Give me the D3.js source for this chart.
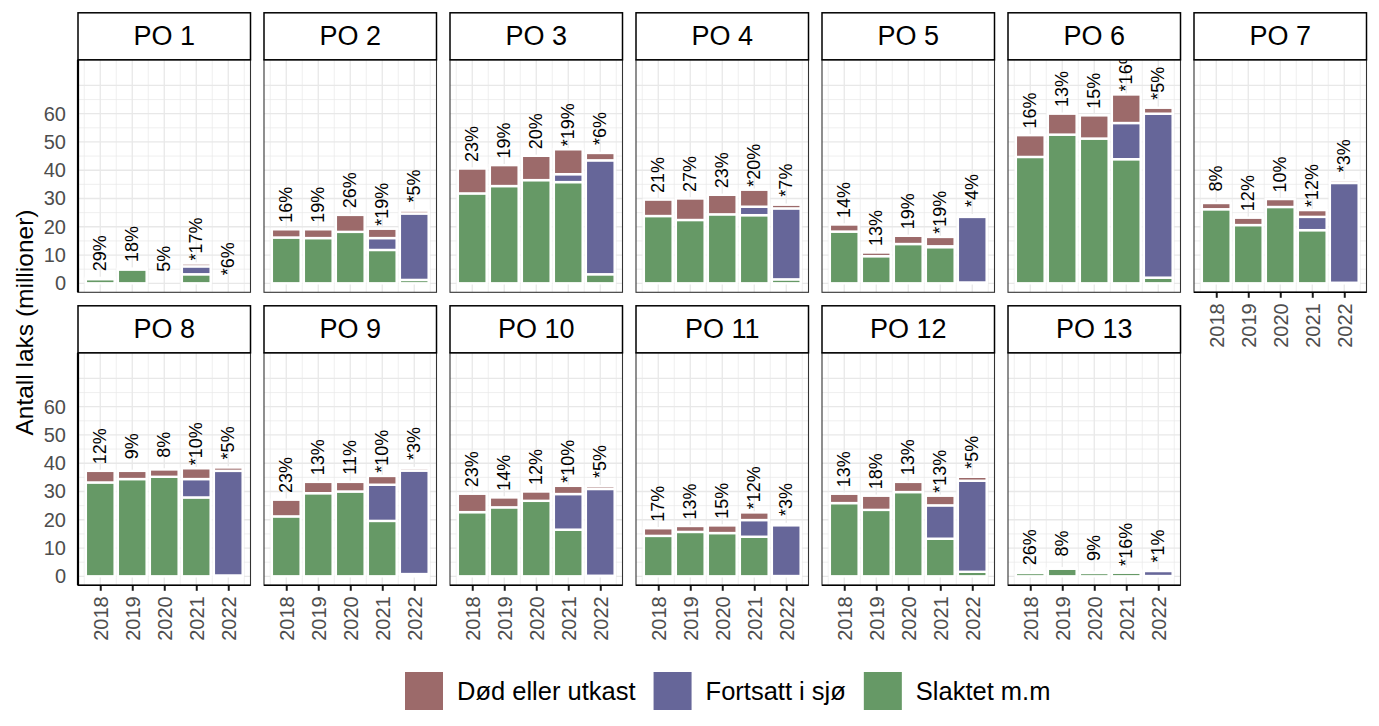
<!DOCTYPE html>
<html>
<head>
<meta charset="utf-8">
<script src="https://cdn.jsdelivr.net/npm/d3@7"></script>
<style>
  body { margin: 0; background: #fff; }
  text { font-family: "Liberation Sans", Arial, sans-serif; }
</style>
</head>
<body>
<div id="chart"></div>
<script>
// Regions, years and series (millions of salmon)
const regions = ["PO 1", "PO 2", "PO 3", "PO 4", "PO 5", "PO 6", "PO 7",
                 "PO 8", "PO 9", "PO 10", "PO 11", "PO 12", "PO 13"];
const years = [2018, 2019, 2020, 2021, 2022];

const slaktet = [
    [1.5, 4.9, 0, 3.2, 0],
    [16.2, 16.0, 18.2, 11.8, 1.2],
    [31.8, 34.4, 36.5, 35.8, 3.2],
    [23.8, 22.4, 24.4, 24.1, 1.4],
    [18.3, 9.6, 13.9, 12.8, 0.3],
    [44.7, 52.6, 51.2, 43.9, 2.0],
    [26.2, 20.6, 27.0, 18.8, 0.2],
    [33.2, 34.4, 35.2, 27.9, 0.3],
    [21.2, 29.4, 30.0, 19.6, 0.8],
    [22.7, 24.4, 26.7, 16.5, 0.2],
    [14.3, 15.7, 15.3, 14.0, 0.1],
    [25.9, 23.5, 29.8, 13.3, 1.6],
    [1.2, 2.7, 1.2, 1.3, 0.1]
];
const fortsatt = [
    [0, 0, 0, 2.8, 0],
    [0, 0, 0, 4.2, 23.5],
    [0, 0, 0, 2.8, 40.3],
    [0, 0, 0, 3.0, 25.1],
    [0, 0, 0, 0.3, 23.2],
    [0, 0, 0, 12.8, 58.0],
    [0, 0, 0, 4.7, 35.3],
    [0, 0, 0, 6.5, 37.0],
    [0, 0, 0, 12.8, 36.6],
    [0, 0, 0, 12.6, 30.7],
    [0, 0, 0, 5.9, 18.0],
    [0, 0, 0, 11.8, 32.2],
    [0, 0, 0, 0.8, 1.8]
];
const dod = [
    [0.4, 0.3, 0, 1.0, 0],
    [2.9, 3.1, 6.0, 3.3, 1.0],
    [8.8, 7.4, 8.6, 8.8, 2.6],
    [5.8, 7.6, 6.9, 6.0, 1.3],
    [2.5, 1.3, 2.9, 3.3, 0.6],
    [7.7, 7.4, 8.2, 10.1, 2.1],
    [2.2, 2.6, 2.8, 2.4, 0.9],
    [4.1, 2.9, 2.6, 3.8, 1.2],
    [5.9, 4.0, 3.4, 3.1, 0.9],
    [6.5, 3.5, 3.3, 2.9, 1.0],
    [2.7, 2.1, 2.7, 2.7, 0.4],
    [3.3, 5.0, 3.6, 3.4, 1.4],
    [0.4, 0.2, 0.1, 0.5, 0.1]
];
const pctLabels = [
    ["29%", "18%", "5%", "*17%", "*6%"],
    ["16%", "19%", "26%", "*19%", "*5%"],
    ["23%", "19%", "20%", "*19%", "*6%"],
    ["21%", "27%", "23%", "*20%", "*7%"],
    ["14%", "13%", "19%", "*19%", "*4%"],
    ["16%", "13%", "15%", "*16%", "*5%"],
    ["8%", "12%", "10%", "*12%", "*3%"],
    ["12%", "9%", "8%", "*10%", "*5%"],
    ["23%", "13%", "11%", "*10%", "*3%"],
    ["23%", "14%", "12%", "*10%", "*5%"],
    ["17%", "13%", "15%", "*12%", "*3%"],
    ["13%", "18%", "13%", "*13%", "*5%"],
    ["26%", "8%", "9%", "*16%", "*1%"]
];
const seriesNames = ["Død eller utkast", "Fortsatt i sjø", "Slaktet m.m"];
const seriesColors = ["#9C6A6A", "#666699", "#669966"];
const yTicks = [0, 10, 20, 30, 40, 50, 60];

// Layout
const W = 1379, H = 726;
const panelW = 172.5, panelH = 232.5, stripH = 47;
const colLeft = 78, colStep = 186;
const rowTop = [59.8, 352.8];
const labelOffset = 8.7;

const svg = d3.select("#chart").append("svg")
    .attr("width", W)
    .attr("height", H);

// Shared scales (fixed across facets)
const x = d3.scaleLinear().domain([2017.305, 2022.695]).range([0, panelW]);
const y = d3.scaleLinear().domain([-3.18, 79.06]).range([panelH, 0]);
const barW = x(2018.45) - x(2017.55);

regions.forEach((region, i) => {
    const row = i < 7 ? 0 : 1;
    const col = i < 7 ? i : i - 7;
    const px = colLeft + col * colStep;
    const py = rowTop[row];
    const showX = row === 1 || col === 6;
    const showY = col === 0;

    const g = svg.append("g").attr("transform", `translate(${px},${py})`);

    // clip path for panel contents
    svg.append("clipPath").attr("id", "clip" + i)
        .append("rect").attr("width", panelW).attr("height", panelH);

    g.append("rect")
        .attr("width", panelW).attr("height", panelH)
        .attr("fill", "#fff");

    const inner = g.append("g").attr("clip-path", `url(#clip${i})`);

    // minor grid
    d3.range(2017.5, 2023, 1).forEach(v => {
        inner.append("line")
            .attr("x1", x(v)).attr("x2", x(v)).attr("y1", 0).attr("y2", panelH)
            .attr("stroke", "#E8E8E8").attr("stroke-width", 0.7);
    });
    d3.range(5, 70, 10).forEach(v => {
        inner.append("line")
            .attr("x1", 0).attr("x2", panelW).attr("y1", y(v)).attr("y2", y(v))
            .attr("stroke", "#E8E8E8").attr("stroke-width", 0.7);
    });
    // major grid
    years.forEach(v => {
        inner.append("line")
            .attr("x1", x(v)).attr("x2", x(v)).attr("y1", 0).attr("y2", panelH)
            .attr("stroke", "#E8E8E8").attr("stroke-width", 1.3);
    });
    d3.range(0, 80, 10).forEach(v => {
        inner.append("line")
            .attr("x1", 0).attr("x2", panelW).attr("y1", y(v)).attr("y2", y(v))
            .attr("stroke", "#E8E8E8").attr("stroke-width", 1.3);
    });

    // stacked bars: Slaktet (bottom), Fortsatt i sjø, Død eller utkast (top)
    const stackData = years.map((yr, j) => ({
        year: yr,
        slaktet: slaktet[i][j],
        fortsatt: fortsatt[i][j],
        dod: dod[i][j]
    }));
    const stack = d3.stack().keys(["slaktet", "fortsatt", "dod"])(stackData);
    const colorOf = { slaktet: seriesColors[2], fortsatt: seriesColors[1], dod: seriesColors[0] };

    stack.forEach(layer => {
        inner.selectAll(null)
            .data(layer.filter(d => d[1] - d[0] > 0))
            .enter().append("rect")
            .attr("x", d => x(d.data.year) - barW / 2)
            .attr("width", barW)
            .attr("y", d => y(d[1]))
            .attr("height", d => y(d[0]) - y(d[1]))
            .attr("fill", colorOf[layer.key])
            .attr("stroke", "#fff")
            .attr("stroke-width", 2.4);
    });

    // percentage labels above bars
    stackData.forEach((d, j) => {
        const total = d.slaktet + d.fortsatt + d.dod;
        const lx = x(d.year), ly = y(total + labelOffset);
        inner.append("text")
            .attr("transform", `translate(${lx},${ly}) rotate(-90)`)
            .attr("text-anchor", "middle")
            .attr("dominant-baseline", "central")
            .attr("font-size", 18)
            .attr("fill", "#000")
            .text(pctLabels[i][j]);
    });

    // panel border
    g.append("rect")
        .attr("width", panelW).attr("height", panelH)
        .attr("fill", "none")
        .attr("stroke", "#333").attr("stroke-width", 1.1);

    // axes
    if (showY) {
        const ya = g.append("g")
            .call(d3.axisLeft(y).tickValues(yTicks).tickSize(0).tickPadding(12));
        ya.select(".domain").remove();
        ya.selectAll("text").attr("font-size", 20).attr("fill", "#4D4D4D")
            .style("font-family", "'Liberation Sans', Arial, sans-serif");
        g.append("line")
            .attr("x1", 0).attr("x2", 0).attr("y1", 0).attr("y2", panelH)
            .attr("stroke", "#000").attr("stroke-width", 2.2);
    }
    if (showX) {
        const xa = g.append("g")
            .attr("transform", `translate(0,${panelH})`)
            .call(d3.axisBottom(x).tickValues(years).tickFormat(d3.format("d"))
                .tickSize(5.5).tickPadding(6));
        xa.select(".domain").remove();
        xa.selectAll(".tick line").attr("stroke", "#1a1a1a").attr("stroke-width", 2);
        xa.selectAll("text")
            .attr("font-size", 20).attr("fill", "#4D4D4D")
            .style("font-family", "'Liberation Sans', Arial, sans-serif")
            .attr("transform", "rotate(-90)")
            .attr("text-anchor", "end")
            .attr("x", -11).attr("y", 0).attr("dy", "0.35em");
        g.append("line")
            .attr("x1", 0).attr("x2", panelW).attr("y1", panelH).attr("y2", panelH)
            .attr("stroke", "#000").attr("stroke-width", 1.6);
    }

    // strip
    g.append("rect")
        .attr("y", -stripH).attr("width", panelW).attr("height", stripH)
        .attr("fill", "#fff").attr("stroke", "#000").attr("stroke-width", 1.5);
    g.append("text")
        .attr("x", panelW / 2).attr("y", -stripH / 2)
        .attr("text-anchor", "middle").attr("dominant-baseline", "central")
        .attr("font-size", 27).attr("fill", "#000")
        .text(region);
});

// y-axis title
svg.append("text")
    .attr("transform", `translate(33,${(rowTop[0] + rowTop[1] + panelH) / 2}) rotate(-90)`)
    .attr("text-anchor", "middle")
    .attr("font-size", 24.5)
    .attr("fill", "#000")
    .text("Antall laks (millioner)");

// legend
const legend = svg.append("g");
let lx = 0;
seriesNames.forEach((name, k) => {
    const item = legend.append("g").attr("transform", `translate(${lx},0)`);
    item.append("rect").attr("width", 38).attr("height", 38).attr("fill", seriesColors[k]);
    const t = item.append("text")
        .attr("x", 52).attr("y", 19)
        .attr("dominant-baseline", "central")
        .attr("font-size", 25.5).attr("fill", "#000")
        .text(name);
    lx += 52 + t.node().getComputedTextLength() + 18;
});
legend.attr("transform", "translate(405,672)");
</script>
</body>
</html>
